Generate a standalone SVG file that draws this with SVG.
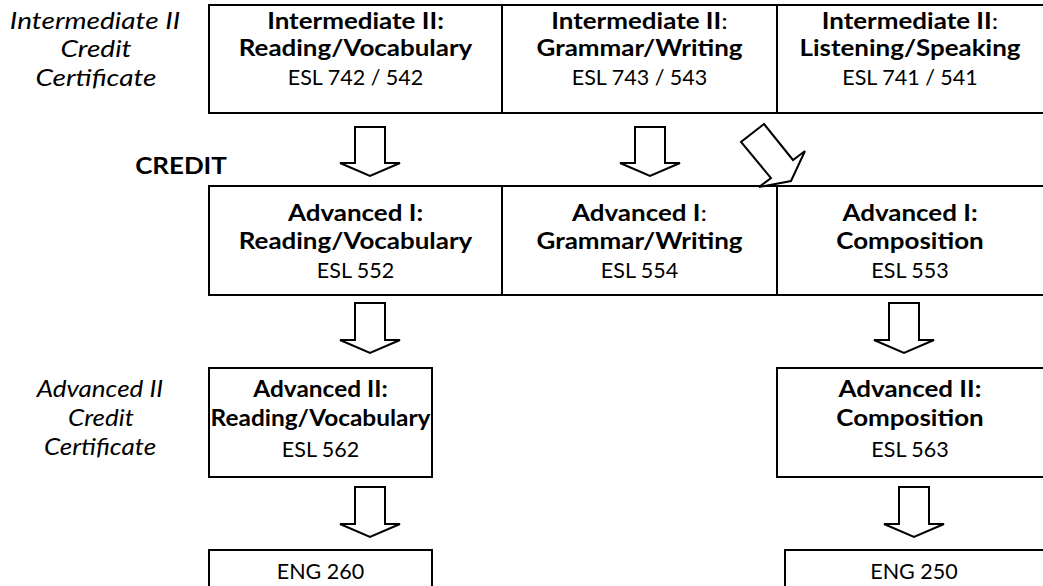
<svg xmlns="http://www.w3.org/2000/svg" width="1043" height="586" viewBox="0 0 1043 586">
<style>
.box{fill:#fff;stroke:#000;stroke-width:2}
.arr{fill:#fff;stroke:#000;stroke-width:2;stroke-linejoin:miter}
text{font-family:Lato,"Open Sans","Liberation Sans",sans-serif;fill:#000;text-anchor:middle}
.b{font-weight:bold;font-size:22px}
.r{font-size:21.5px}
.i{font-style:italic;font-size:23px}
.n{font-weight:normal}
</style>
<rect width="1043" height="586" fill="#fff"/>
<g id="label-int2">
<text class="i" transform="translate(95,29) scale(1.22,1)">Intermediate II</text>
<text class="i" transform="translate(96,57) scale(1.22,1)">Credit</text>
<text class="i" transform="translate(96,86) scale(1.22,1)">Certificate</text>
</g>
<g id="label-credit"><text class="b" transform="translate(181,174) scale(1.18,1)">CREDIT</text></g>
<g id="label-adv2">
<text class="i" transform="translate(100,397) scale(1.13,1)">Advanced II</text>
<text class="i" transform="translate(101,426) scale(1.13,1)">Credit</text>
<text class="i" transform="translate(100,455) scale(1.13,1)">Certificate</text>
</g>
<g id="int2-rv">
<rect class="box" x="209" y="5" width="293" height="108"/>
<text class="b" transform="translate(355.5,29) scale(1.18,1)">Intermediate II:</text>
<text class="b" transform="translate(355.5,56) scale(1.18,1)">Reading/Vocabulary</text>
<text class="r" x="355.5" y="85">ESL 742 / 542</text>
</g>
<g id="int2-gw">
<rect class="box" x="502" y="5" width="275" height="108"/>
<text class="b" transform="translate(639.5,29) scale(1.18,1)">Intermediate II<tspan class="n">:</tspan></text>
<text class="b" transform="translate(639.5,56) scale(1.18,1)">Grammar/Writing</text>
<text class="r" x="639.5" y="85">ESL 743 / 543</text>
</g>
<g id="int2-ls">
<rect class="box" x="777" y="5" width="280" height="108"/>
<text class="b" transform="translate(910,29) scale(1.18,1)">Intermediate II<tspan class="n">:</tspan></text>
<text class="b" transform="translate(910,56) scale(1.18,1)">Listening/Speaking</text>
<text class="r" x="910" y="85">ESL 741 / 541</text>
</g>
<g id="adv1-rv">
<rect class="box" x="209" y="186" width="293" height="109"/>
<text class="b" transform="translate(355.5,221) scale(1.18,1)">Advanced I:</text>
<text class="b" transform="translate(355.5,249) scale(1.18,1)">Reading/Vocabulary</text>
<text class="r" x="355.5" y="278">ESL 552</text>
</g>
<g id="adv1-gw">
<rect class="box" x="502" y="186" width="275" height="109"/>
<text class="b" transform="translate(639.5,221) scale(1.18,1)">Advanced I<tspan class="n">:</tspan></text>
<text class="b" transform="translate(639.5,249) scale(1.18,1)">Grammar/Writing</text>
<text class="r" x="639.5" y="278">ESL 554</text>
</g>
<g id="adv1-comp">
<rect class="box" x="777" y="186" width="280" height="109"/>
<text class="b" transform="translate(910,221) scale(1.18,1)">Advanced I:</text>
<text class="b" transform="translate(910,249) scale(1.18,1)">Composition</text>
<text class="r" x="910" y="278">ESL 553</text>
</g>
<g id="adv2-rv">
<rect class="box" x="209" y="368" width="223" height="109"/>
<text class="b" transform="translate(320.5,397) scale(1.11,1)">Advanced II:</text>
<text class="b" transform="translate(320.5,426) scale(1.11,1)">Reading/Vocabulary</text>
<text class="r" x="320.5" y="457">ESL 562</text>
</g>
<g id="adv2-comp">
<rect class="box" x="777" y="368" width="280" height="109"/>
<text class="b" transform="translate(910,397) scale(1.18,1)">Advanced II:</text>
<text class="b" transform="translate(910,426) scale(1.18,1)">Composition</text>
<text class="r" x="910" y="457">ESL 563</text>
</g>
<g id="eng260">
<rect class="box" x="209" y="550" width="223" height="50"/>
<text class="r" x="320.5" y="579">ENG 260</text>
</g>
<g id="eng250">
<rect class="box" x="785" y="550" width="272" height="50"/>
<text class="r" x="914" y="579">ENG 250</text>
</g>
<g id="connectors">
<polygon class="arr" points="355,127 385,127 385,163 400,163 370,176 340,163 355,163"/>
<polygon class="arr" points="635,127 665,127 665,163 680,163 650,176 620,163 635,163"/>
<polygon class="arr" points="764,124 741,142 771,178 759,187 791,181 805,151 793,160"/>
<polygon class="arr" points="355,303 385,303 385,340 400,340 370,353 340,340 355,340"/>
<polygon class="arr" points="889,303 919,303 919,340 934,340 904,353 874,340 889,340"/>
<polygon class="arr" points="355,487 385,487 385,524 400,524 370,537 340,524 355,524"/>
<polygon class="arr" points="899,487 929,487 929,524 944,524 914,537 884,524 899,524"/>
</g>
</svg>
